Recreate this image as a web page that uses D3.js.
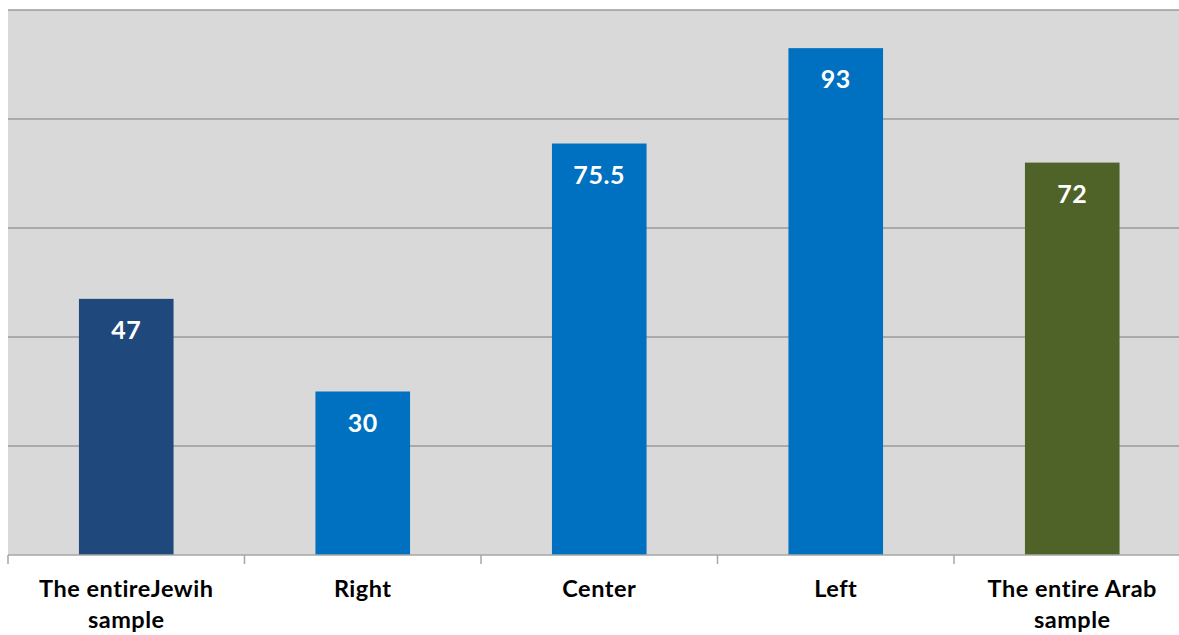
<!DOCTYPE html>
<html>
<head>
<meta charset="utf-8">
<script src="https://cdn.jsdelivr.net/npm/d3@7"></script>
<style>
  html, body { margin: 0; padding: 0; background: #fff; overflow: hidden; }
  svg { display: block; }
</style>
</head>
<body>
<svg id="chart" width="1179" height="635"></svg>
<script>
// categories (line breaks as in the original labels)
const categories = ['The entireJewih\nsample', 'Right', 'Center', 'Left', 'The entire Arab\nsample']
const values = [47, 30, 75.5, 93, 72]
const barColors = ['#1F497D', '#0070C0', '#0070C0', '#0070C0', '#4F6228']
const yTicks = [0, 20, 40, 60, 80, 100]

const svg = d3.select('#chart')
const margin = {top: 10, left: 8}
const plotH = 545
const step = 236.5
const plotW = step * categories.length

const g = svg.append('g').attr('transform', 'translate(' + margin.left + ',' + margin.top + ')')

const x = d3.scaleBand()
  .domain(categories)
  .range([0, plotW])
  .paddingInner(0.6)
  .paddingOuter(0.3)

const y = d3.scaleLinear()
  .domain([0, 100])
  .range([plotH, 0])

// plot background
g.append('rect')
  .attr('x', 0)
  .attr('y', 0)
  .attr('width', plotW)
  .attr('height', plotH)
  .attr('fill', '#D9D9D9')

// gridlines
g.append('g')
  .selectAll('line')
  .data(yTicks.slice(1))
  .enter().append('line')
  .attr('x1', 0)
  .attr('x2', plotW)
  .attr('y1', function (d) { return y(d) })
  .attr('y2', function (d) { return y(d) })
  .attr('stroke', '#9A9A9A')
  .attr('stroke-width', 1.5)

// bars
g.append('g')
  .selectAll('rect')
  .data(values)
  .enter().append('rect')
  .attr('x', function (d, i) { return x(categories[i]) })
  .attr('y', function (d) { return y(d) })
  .attr('width', x.bandwidth())
  .attr('height', function (d) { return y(0) - y(d) })
  .attr('fill', function (d, i) { return barColors[i] })

// value labels
g.append('g')
  .selectAll('text')
  .data(values)
  .enter().append('text')
  .attr('x', function (d, i) { return x(categories[i]) + x.bandwidth() / 2 })
  .attr('y', function (d) { return y(d) + 40 })
  .attr('text-anchor', 'middle')
  .attr('fill', '#fff')
  .attr('font-family', 'Lato, "Open Sans", sans-serif')
  .attr('font-weight', 'bold')
  .attr('font-size', 25)
  .attr('letter-spacing', 0.6)
  .text(function (d) { return d })

// x axis
const xAxis = g.append('g')
  .attr('transform', 'translate(0,' + plotH + ')')
xAxis.append('line')
  .attr('x1', 0)
  .attr('x2', plotW)
  .attr('stroke', '#A6A6A6')
  .attr('stroke-width', 1.5)
xAxis.selectAll('line.tick')
  .data(d3.range(categories.length + 1))
  .enter().append('line')
  .attr('class', 'tick')
  .attr('x1', function (i) { return i * x.step() })
  .attr('x2', function (i) { return i * x.step() })
  .attr('y1', 0)
  .attr('y2', 9)
  .attr('stroke', '#A6A6A6')
  .attr('stroke-width', 1.5)

// category labels
const labels = xAxis.selectAll('text')
  .data(categories)
  .enter().append('text')
  .attr('text-anchor', 'middle')
  .attr('fill', '#000')
  .attr('font-family', 'Lato, "Open Sans", sans-serif')
  .attr('font-weight', 'bold')
  .attr('font-size', 23.5)
  .attr('letter-spacing', 0.5)
  .attr('transform', function (d) { return 'translate(' + (x(d) + x.bandwidth() / 2) + ',42)' })
labels.selectAll('tspan')
  .data(function (d) { return d.split('\n') })
  .enter().append('tspan')
  .attr('x', 0)
  .attr('dy', function (d, i) { return i === 0 ? 0 : 31 })
  .text(function (d) { return d })
</script>
</body>
</html>
